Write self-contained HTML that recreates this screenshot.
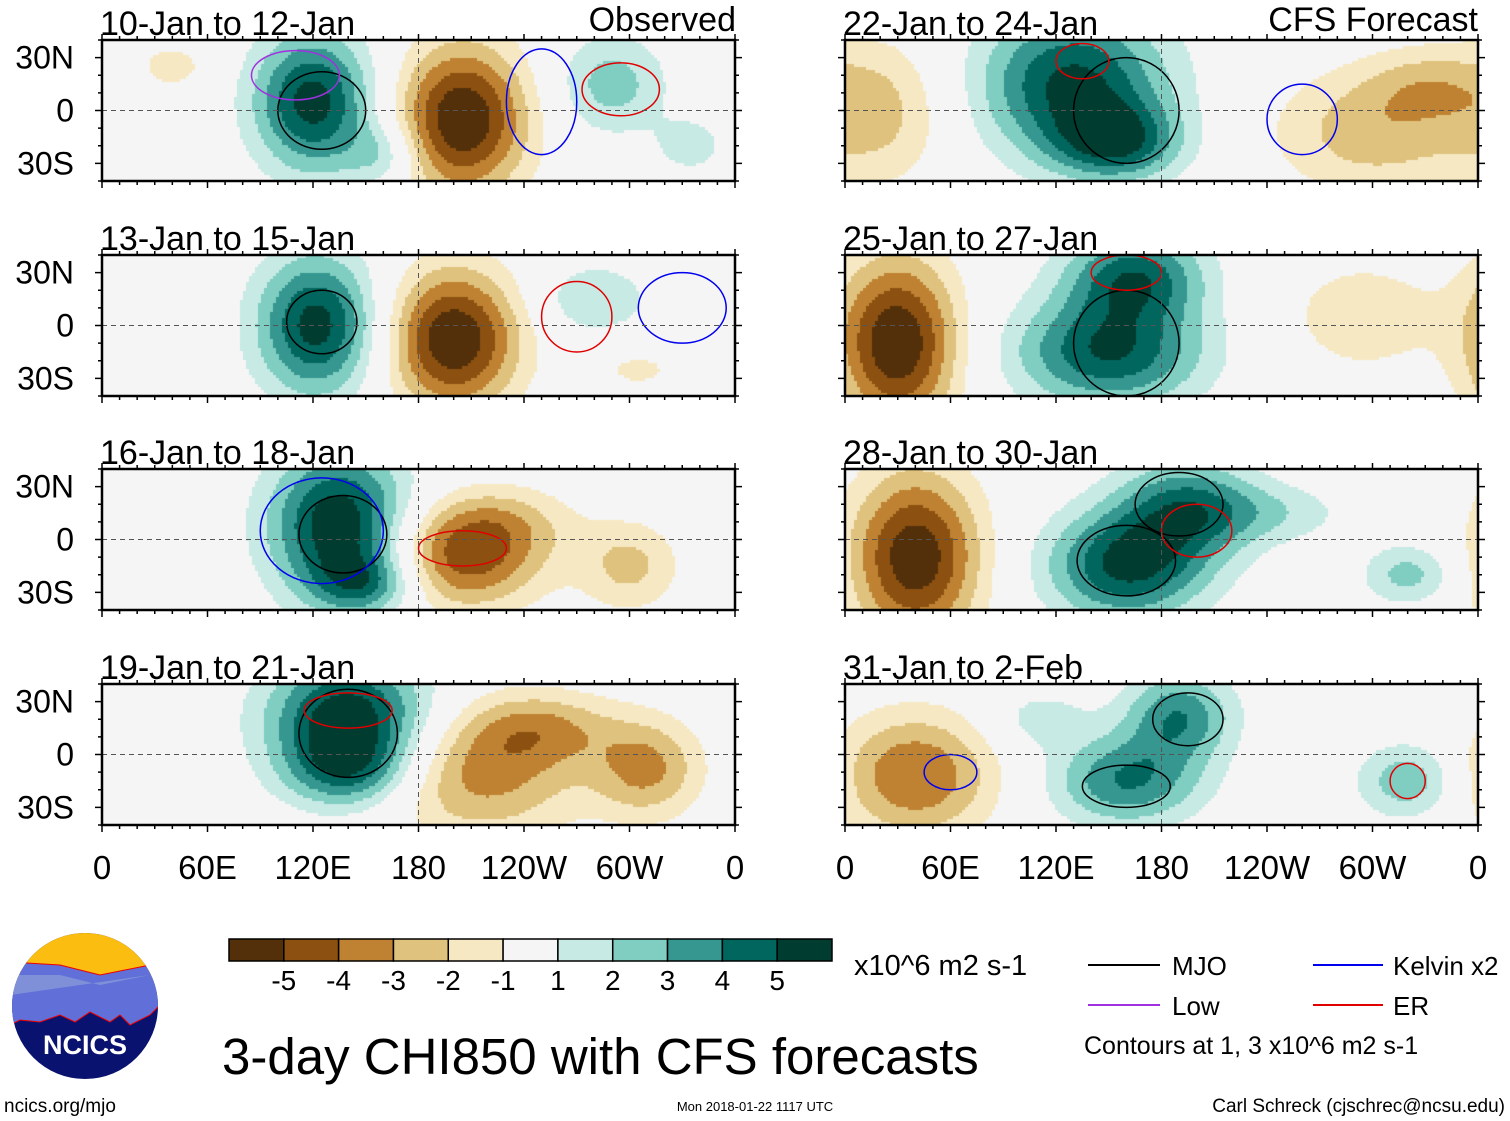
<!DOCTYPE html>
<html><head><meta charset="utf-8">
<style>
body{margin:0;background:#fff;width:1510px;height:1121px;overflow:hidden;position:relative;font-family:"Liberation Sans",Arial,sans-serif}
canvas{position:absolute}
svg{position:absolute;left:0;top:0}
</style></head>
<body>
<div id="maps"></div>
<svg id="ov" width="1510" height="1121"></svg>
<script>
// ---- data ----
const panelTitles=["10-Jan to 12-Jan","13-Jan to 15-Jan","16-Jan to 18-Jan","19-Jan to 21-Jan","22-Jan to 24-Jan","25-Jan to 27-Jan","28-Jan to 30-Jan","31-Jan to 2-Feb"];
const levelLabels=["-5","-4","-3","-2","-1","1","2","3","4","5"];
const levelEdges=[-5,-4,-3,-2,-1,1,2,3,4,5];
const levelColors=["#54300a","#8c5110","#bf8233","#dfc27d","#f6e8c3","#f5f5f5","#c7eae5","#80cdc1","#35978f","#01665e","#003c30"];
const lonTicks=[0,60,120,180,240,300,360];
const lonTickLabels=["0","60E","120E","180","120W","60W","0"];
const latTicks=[30,0,-30];
const latTickLabels=["30N","0","30S"];
// blobs: [lon, lat, amplitude, lonWidth, latWidth]
const panelBlobs=[
 [[120,5,5.5,24,28],[205,-5,-6,26,30],[290,15,2.5,22,20],[335,-20,1.5,15,12],[40,25,-1.5,15,10],[160,-25,2,15,12]],
 [[122,0,5.5,24,28],[200,-8,-6,26,28],[280,15,2,22,14],[305,-25,-1.2,20,10]],
 [[135,8,6,28,30],[205,-12,-4.3,32,20],[225,10,-2,30,15],[300,-15,-2.3,20,18],[150,-25,3,20,12]],
 [[140,20,6,32,25],[140,-10,3,25,15],[215,-12,-3.4,40,25],[250,15,-2.5,30,15],[310,-8,-3.2,22,20]],
 [[130,15,5.3,38,30],[155,-18,4.0,25,15],[20,0,-2.2,28,30],[300,-12,-2.6,40,25],[330,15,-1.6,25,15]],
 [[30,-10,-6,24,34],[150,-15,5,38,22],[165,28,4.5,28,18],[295,5,-1.6,35,25]],
 [[40,-10,-5.8,26,34],[160,-15,5.2,32,22],[195,18,4,28,20],[320,-20,2.4,18,12],[245,15,1.5,30,12]],
 [[40,-12,-4,32,25],[160,-15,4,30,18],[190,22,3.8,22,18],[320,-15,2.8,20,15],[110,20,1.5,20,12]]
];
// contours: [lon, lat, rLon, rLat, color]
const panelContours=[
 [[125,0,25,22,"#000"],[110,20,25,14,"#a030e0"],[295,12,22,15,"#e00000"],[250,5,20,30,"#0000ee"]],
 [[125,2,20,18,"#000"],[270,5,20,20,"#e00000"],[330,10,25,20,"#0000ee"]],
 [[137,3,25,22,"#000"],[205,-5,25,10,"#e00000"],[125,5,35,30,"#0000ee"]],
 [[140,12,28,25,"#000"],[140,25,25,10,"#e00000"]],
 [[160,0,30,30,"#000"],[135,28,15,10,"#e00000"],[260,-5,20,20,"#0000ee"]],
 [[160,-10,30,30,"#000"],[160,30,20,10,"#e00000"]],
 [[160,-12,28,20,"#000"],[190,20,25,18,"#000"],[200,5,20,15,"#e00000"]],
 [[160,-18,25,12,"#000"],[195,20,20,15,"#000"],[60,-10,15,10,"#0000ee"],[320,-15,10,10,"#e00000"]]
];
// ---- layout ----
const colX=[102,845], pw=633, ph=141, rowY=[40,255,469,684];
const NS="http://www.w3.org/2000/svg";
const ov=document.getElementById('ov');
function el(tag,attrs,txt){const e=document.createElementNS(NS,tag);for(const k in attrs)e.setAttribute(k,attrs[k]);if(txt!==undefined)e.textContent=txt;ov.appendChild(e);return e;}
function colorFor(v){let i=0;while(i<levelEdges.length&&v>=levelEdges[i])i++;return levelColors[i];}
const cell=3;
panelTitles.forEach((t,p)=>{
 const c=p<4?0:1, r=p%4, X0=colX[c], Y0=rowY[r];
 const xs=lon=>X0+lon/360*pw, ys=lat=>Y0+ph/2-lat/80*ph;
 const cv=document.createElement('canvas');cv.width=pw;cv.height=ph;cv.style.left=X0+'px';cv.style.top=Y0+'px';
 
 
 document.getElementById('maps').appendChild(cv);
 const g=cv.getContext('2d');
 for(let py=0;py<ph;py+=cell)for(let px=0;px<pw;px+=cell){
  const lon=(px+cell/2)/pw*360, lat=40-(py+cell/2)/ph*80;
  let v=0;panelBlobs[p].forEach(b=>{let dl=lon-b[0];if(dl>180)dl-=360;if(dl<-180)dl+=360;v+=b[2]*Math.exp(-(dl*dl)/(2*b[3]*b[3])-((lat-b[1])**2)/(2*b[4]*b[4]));});
  g.fillStyle=colorFor(v);g.fillRect(px,py,cell,cell);
 }
 panelContours[p].forEach(k=>{const e=el('ellipse',{cx:xs(k[0]),cy:ys(k[1]),rx:k[2]/360*pw,ry:k[3]/80*ph,fill:'none',stroke:k[4],'stroke-width':1.5});
  });
 const eq=el('line',{x1:X0,x2:X0+pw,y1:ys(0),y2:ys(0),stroke:'#555','stroke-dasharray':'5,4','stroke-width':1});
 
 el('line',{x1:xs(180),x2:xs(180),y1:Y0,y2:Y0+ph,stroke:'#555','stroke-dasharray':'5,4','stroke-width':1});
 const fr=el('rect',{x:X0,y:Y0,width:pw,height:ph,fill:'none',stroke:'#000','stroke-width':2.5});
 
 for(let l=0;l<=360;l+=10){const x=xs(l),big=l%60==0;el('line',{x1:x,x2:x,y1:Y0-(big?6:4),y2:Y0,stroke:'#000','stroke-width':1.5});el('line',{x1:x,x2:x,y1:Y0+ph,y2:Y0+ph+(big?7:4),stroke:'#000','stroke-width':1.5});}
 for(let la=-40;la<=40;la+=10){const y=ys(la);el('line',{x1:X0-(la%30==0?7:4),x2:X0,y1:y,y2:y,stroke:'#000','stroke-width':1.5});el('line',{x1:X0+pw,x2:X0+pw+(la%30==0?7:4),y1:y,y2:y,stroke:'#000','stroke-width':1.5});}
 if(c==0)latTicks.forEach((la,i)=>{const tx=el('text',{x:74,y:ys(la)+11,'font-size':32,'text-anchor':'end'},latTickLabels[i]);});
 const tt=el('text',{x:X0-2,y:Y0-5,'font-size':34},t);
 
 if(r==3)lonTicks.forEach((l,i)=>{const tx=el('text',{x:xs(l),y:879,'font-size':33,'text-anchor':'middle'},lonTickLabels[i]);});
});
const o1=el('text',{x:736,y:31,'font-size':34,'text-anchor':'end'},'Observed');
const o2=el('text',{x:1478,y:31,'font-size':34,'text-anchor':'end'},'CFS Forecast');
// colorbar
const cbX=229,cbW=603,cbY=939,cbH=22,bw=cbW/11;
levelColors.forEach((col,i)=>{const b=el('rect',{x:cbX+i*bw,y:cbY,width:bw,height:cbH,fill:col,stroke:'#000','stroke-width':1.5});});
levelLabels.forEach((s,i)=>{const tx=el('text',{x:cbX+(i+1)*bw,y:990,'font-size':28,'text-anchor':'middle'},s);});
</script>
<svg width="1510" height="1121" style="pointer-events:none">
 <text x="854" y="975" font-size="29" font-family="Liberation Sans">x10^6 m2 s-1</text>
 <g font-size="26" font-family="Liberation Sans">
  <line x1="1088" y1="965" x2="1160" y2="965" stroke="#000" stroke-width="2"/><text x="1172" y="975">MJO</text>
  <line x1="1313" y1="965" x2="1383" y2="965" stroke="#0000ee" stroke-width="2"/><text x="1393" y="975">Kelvin x2</text>
  <line x1="1088" y1="1005" x2="1160" y2="1005" stroke="#a030e0" stroke-width="2"/><text x="1172" y="1015">Low</text>
  <line x1="1313" y1="1005" x2="1383" y2="1005" stroke="#e00000" stroke-width="2"/><text x="1393" y="1015">ER</text>
  <text x="1084" y="1054" font-size="25">Contours at 1, 3 x10^6 m2 s-1</text>
 </g>
 <text x="222" y="1074" font-size="51" font-family="Liberation Sans">3-day CHI850 with CFS forecasts</text>
 <g>
  <clipPath id="lc"><circle cx="85" cy="1006" r="73"/></clipPath>
  <g clip-path="url(#lc)">
   <rect x="10" y="930" width="150" height="155" fill="#0a1270"/>
   <rect x="10" y="930" width="150" height="50" fill="#fbbd10"/>
   <path d="M10 962 L60 965 L100 975 L150 965 L165 970 L165 1000 L150 1015 L130 1025 L120 1015 L110 1022 L90 1012 L75 1022 L60 1015 L40 1022 L20 1020 L10 1025 Z" fill="#6070d8" stroke="#e00" stroke-width="1"/>
   <path d="M10 975 L60 975 L100 985 L150 975 L10 995 Z" fill="#8090d8"/>
  </g>
  <text x="85" y="1054" font-size="27" font-weight="bold" fill="#fff" text-anchor="middle" font-family="Liberation Sans">NCICS</text>
 </g>
 <text x="4" y="1112" font-size="19" font-family="Liberation Sans">ncics.org/mjo</text>
 <text x="755" y="1111" font-size="13" text-anchor="middle" font-family="Liberation Sans">Mon 2018-01-22 1117 UTC</text>
 <text x="1505" y="1112" font-size="19" text-anchor="end" font-family="Liberation Sans">Carl Schreck (cjschrec@ncsu.edu)</text>
</svg>
</body></html>
